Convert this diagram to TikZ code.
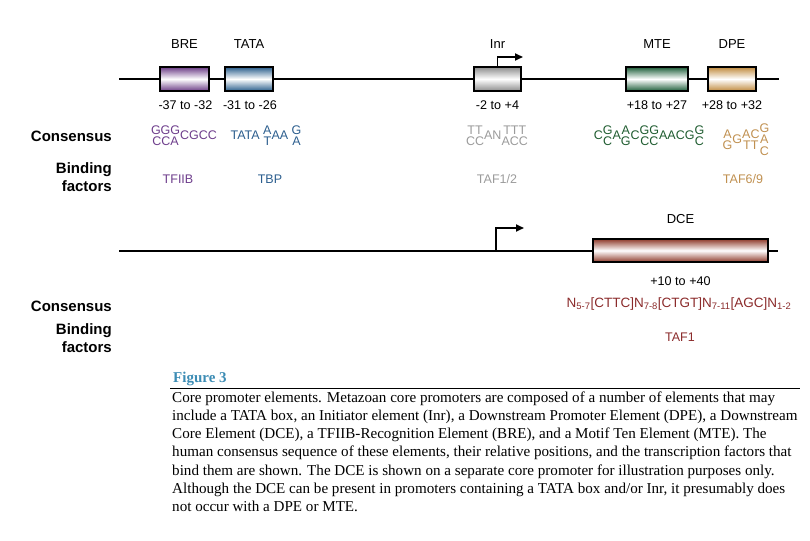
\documentclass[tikz,border=0pt]{standalone}
\usepackage{fontspec}
\setmainfont{Liberation Sans}
\newfontfamily\capfont{Liberation Serif}
\usepackage{tikz}
\usetikzlibrary{arrows.meta, positioning}

\definecolor{brec}{RGB}{107,60,134}
\definecolor{tatac}{RGB}{42,94,140}
\definecolor{inrc}{RGB}{140,140,140}
\definecolor{mtec}{RGB}{30,94,58}
\definecolor{dpec}{RGB}{192,138,62}
\definecolor{dcec}{RGB}{142,58,42}
\definecolor{bret}{RGB}{110,62,140}
\definecolor{tatat}{RGB}{44,94,142}
\definecolor{inrt}{RGB}{155,155,155}
\definecolor{mtet}{RGB}{31,92,48}
\definecolor{dpet}{RGB}{192,144,80}
\definecolor{dcet}{RGB}{139,43,43}
\definecolor{figc}{RGB}{60,140,180}

\newcommand{\stk}[1]{{\renewcommand{\arraystretch}{0.62}\begin{tabular}{@{}c@{}}#1\end{tabular}}}

\begin{document}
\begin{tikzpicture}[
			x=1pt, y=-1pt,
			elem/.style={
				draw=black,
				line width=2pt,
				minimum height=24pt,
				inner sep=0pt,
				top color=#1,
				bottom color=#1,
				middle color=white
			},
			elabel/.style={inner sep=0pt, font=\fontsize{13}{15}\selectfont},
			poslbl/.style={inner sep=0pt, font=\fontsize{12.6}{15}\selectfont},
			seq/.style={inner sep=0pt, font=\fontsize{12.5}{14}\selectfont},
			factor/.style={inner sep=0pt, font=\fontsize{12.5}{14}\selectfont},
			rowlbl/.style={inner sep=0pt, anchor=east, align=right,
				font=\fontsize{15}{17.5}\selectfont\bfseries},
			dna/.style={line width=2.4pt},
			tss/.style={-{Triangle[length=8pt, width=7pt]}, line width=1.8pt}
			]
			
			\useasboundingbox (0,0) rectangle (810,540);
			
			\coordinate (dnaleft) at (119,79);
			\coordinate (dnaright) at (779,79);
			\draw[dna] (dnaleft) -- (dnaright);
			
			\node[elem=brec, minimum width=49pt] (bre) at (184.5,79) {};
			\node[elem=tatac, minimum width=48pt] (tata) at (249,79) {};
			\node[elem=inrc, minimum width=47pt] (inr) at (497.5,79) {};
			\node[elem=mtec, minimum width=62pt] (mte) at (657,79) {};
			\node[elem=dpec, minimum width=48pt] (dpe) at (732,79) {};
			
			\node[elabel, above=17pt of bre] (brelbl) {BRE};
			\node[elabel, above=17pt of tata] (tatalbl) {TATA};
			\node[elabel, above=17pt of inr] (inrlbl) {Inr};
			\node[elabel, above=17pt of mte] (mtelbl) {MTE};
			\node[elabel, above=17pt of dpe] (dpelbl) {DPE};
			
			\coordinate (inrtip) at (523,57);
			\draw[tss] (inr.north) |- (inrtip);
			
			\node[poslbl, below=9pt of bre, xshift=1pt] (brepos) {-37 to -32};
			\node[poslbl, below=9pt of tata, xshift=1pt] (tatapos) {-31 to -26};
			\node[poslbl, below=9pt of inr] (inrpos) {-2 to +4};
			\node[poslbl, below=9pt of mte] (mtepos) {+18 to +27};
			\node[poslbl, below=9pt of dpe] (dpepos) {+28 to +32};
			
			\node[rowlbl] (consone) at (112,136) {Consensus};
			\node[rowlbl] (bindone) at (112,177) {Binding\\factors};
			
			\node[seq, text=bret] (breseq) at (184,137) {\stk{GGG\\CCA}CGCC};
			\node[seq, text=tatat] (tataseq) at (266,137) {TATA \stk{A\\T}AA \stk{G\\A}};
			\node[seq, text=inrt] (inrseq) at (497,137) {\stk{TT\\CC}AN\stk{TTT\\ACC}};
			\node[seq, text=mtet] (mteseq) at (649,137)
			{C\stk{G\\C}A\stk{A\\G}C\stk{GG\\CC}AACG\stk{G\\C}};
			\node[seq, text=dpet] (dpeseq) at (746,141)
			{\stk{A\\G}G\stk{AC\\TT}\stk{G\\A\\C}};
			
			\node[factor, text=bret] (tfiib) at (178,179) {TFIIB};
			\node[factor, text=tatat] (tbp) at (270,179) {TBP};
			\node[factor, text=inrt] (taftwo) at (497,179) {TAF1/2};
			\node[factor, text=dpet] (tafsix) at (743,179) {TAF6/9};
			
			\coordinate (dcaleft) at (119,251);
			\coordinate (dcaright) at (778,251);
			\draw[dna] (dcaleft) -- (dcaright);
			
			\node[elem=dcec, minimum width=175pt, minimum height=23pt] (dce) at (680.5,250.5) {};
			\node[elabel, above=14pt of dce] (dcelbl) {DCE};
			\node[poslbl, below=14pt of dce] (dcepos) {+10 to +40};
			
			\coordinate (tssbase) at (496,251);
			\coordinate (tsstip) at (524,228);
			\draw[tss] (tssbase) |- (tsstip);
			
			\node[rowlbl] (constwo) at (112,306) {Consensus};
			\node[rowlbl] (bindtwo) at (112,338) {Binding\\factors};
			
			\node[seq, text=dcet, font=\fontsize{13.5}{15}\selectfont] (dceseq) at (679,304)
			{N\textsubscript{5-7}[CTTC]N\textsubscript{7-8}[CTGT]N\textsubscript{7-11}[AGC]N\textsubscript{1-2}};
			\node[factor, text=dcet] (tafone) at (680,337) {TAF1};
			
			\node[anchor=base west, inner sep=0pt, text=figc,
				font=\capfont\bfseries\fontsize{15}{17}\selectfont] (figlbl) at (173,382) {Figure 3};
			\coordinate (ruleleft) at (170,388);
			\coordinate (ruleright) at (800,388);
			\draw[line width=0.9pt] (ruleleft) -- (ruleright);
			
			\node[anchor=north west, inner sep=0pt, align=left,
				font=\capfont\fontsize{15.1}{18.2}\selectfont] (caption) at (172,391.5)
			{Core promoter elements. Metazoan core promoters are composed of a number of elements that may\\
			include a TATA box, an Initiator element (Inr), a Downstream Promoter Element (DPE), a Downstream\\
			Core Element (DCE), a TFIIB-Recognition Element (BRE), and a Motif Ten Element (MTE). The\\
			human consensus sequence of these elements, their relative positions, and the transcription factors that\\
			bind them are shown. The DCE is shown on a separate core promoter for illustration purposes only.\\
			Although the DCE can be present in promoters containing a TATA box and/or Inr, it presumably does\\
			not occur with a DPE or MTE.};
			
		\end{tikzpicture}
\end{document}
